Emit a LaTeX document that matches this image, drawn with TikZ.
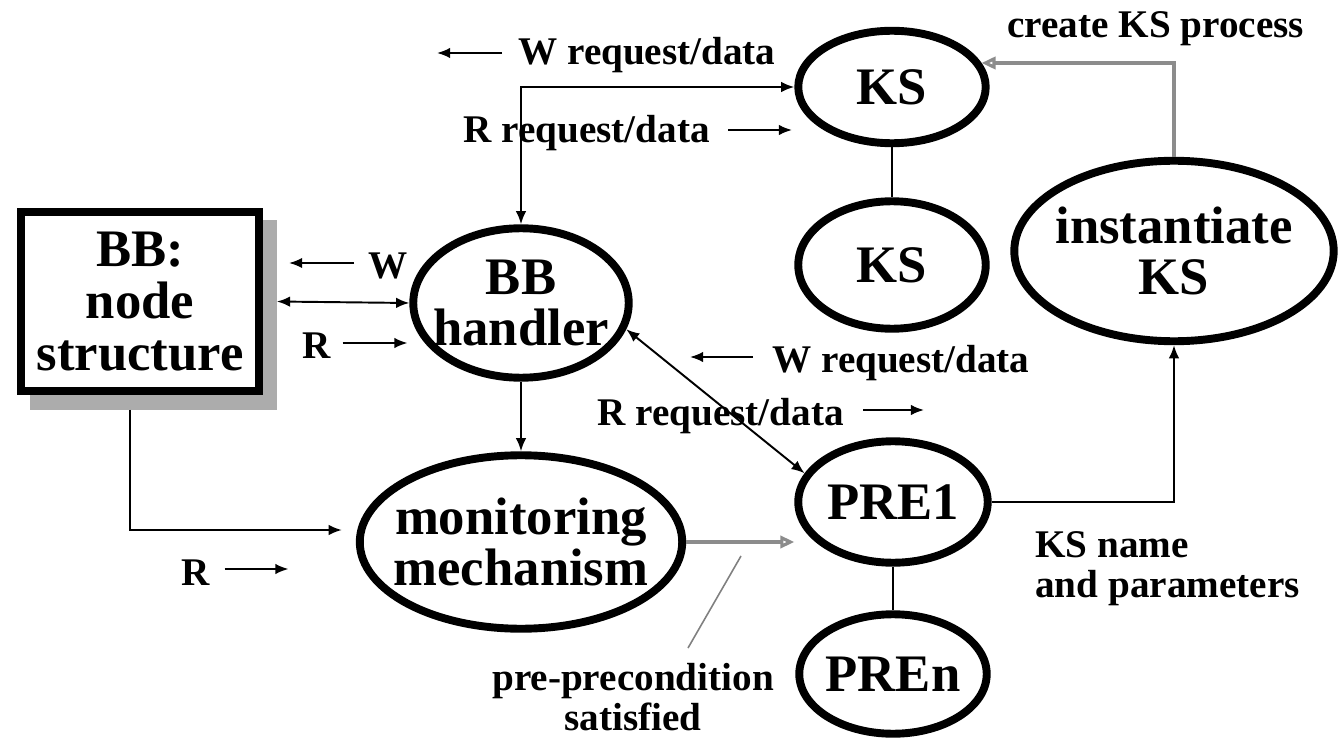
\documentclass[tikz,border=0pt]{standalone}
\usepackage{fontspec}
\setmainfont{Liberation Serif}
\usetikzlibrary{shapes.geometric,arrows.meta,calc}
\begin{document}
\begin{tikzpicture}[x=0.02cm,y=-0.02cm,
  big/.style={font=\fontsize{30}{29.5}\selectfont\bfseries},
  lbl/.style={font=\fontsize{22.3}{23}\selectfont\bfseries, inner sep=0pt},
  oval/.style={ellipse, draw, line width=4.5pt, big, align=center, inner xsep=-10pt, inner ysep=0pt},
  plainln/.style={line width=1.1pt},
  conn/.style={line width=1.1pt, -{Latex[length=7.5pt,width=6pt]}},
  biconn/.style={line width=1.1pt, {Latex[length=7.5pt,width=6pt]}-{Latex[length=7.5pt,width=6pt]}},
  grayconn/.style={line width=1.8pt, draw=gray!90, -{Triangle[open,length=8pt,width=7pt]}},
]
\useasboundingbox (0,0) rectangle (1340,740);

% BB box with shadow
\fill[gray!65] (30,220) rectangle (277,410);
\node[draw, line width=4.5pt, fill=white, minimum width=4.76cm, minimum height=3.58cm,
      big, align=center, inner sep=0pt] (bb) at (140,301.5) {BB:\\node\\structure};

% ellipses
\node[oval, minimum width=3.75cm, minimum height=2.25cm] (ks1) at (892,87) {KS};
\node[oval, minimum width=3.75cm, minimum height=2.55cm] (ks2) at (892,265) {KS};
\node[oval, minimum width=6.39cm, minimum height=3.61cm] (inst) at (1174,251) {instantiate\\KS};
\node[oval, minimum width=4.31cm, minimum height=2.99cm] (hand) at (521,303) {BB\\handler};
\node[oval, minimum width=6.45cm, minimum height=3.47cm] (mon) at (521,542) {monitoring\\mechanism};
\node[oval, minimum width=3.79cm, minimum height=2.43cm] (pre1) at (893,502) {PRE1};
\node[oval, minimum width=3.75cm, minimum height=2.39cm] (pren) at (893,674) {PREn};

% connectors
\draw[biconn] (hand.north) |- (ks1.west);
\draw[plainln] (ks1.south) -- (ks2.north);
\draw[conn] (hand.south) -- (mon.north);
\draw[biconn] ($(bb.east)+(14,0)$) -- (hand.west);
\draw[conn] ($(bb.south)+(-10,15)$) |- ($(mon.west)+(-14,-12)$);
\draw[biconn] (hand.-14) -- (pre1.162);
\draw[grayconn] (mon.east) -- (mon.east -| pre1.west);
\draw[grayconn] (inst.north) |- (ks1.15);
\draw[conn] (pre1.east) -| (inst.south);
\draw[plainln] (pre1.south) -- (pren.north);

% pointer line to "pre-precondition satisfied"
\coordinate (s1) at (741,556);
\coordinate (s2) at (688,648);
\draw[gray, line width=0.9pt] (s1) -- (s2);

% labels with direction arrows
\node[lbl, anchor=base west] (wtop) at (518,65) {W request/data};
\draw[conn] ($(wtop.base west)+(-16,-12)$) -- ++(-65,0);

\node[lbl, anchor=base west] (rtop) at (463,143) {R request/data};
\draw[conn] ($(rtop.base east)+(18,-13)$) -- ++(64,0);

\node[lbl, anchor=base] (wbb) at (388,278) {W};
\draw[conn] ($(wbb.base west)+(-14,-15)$) -- ++(-65,0);

\node[lbl, anchor=base] (rbb) at (317,358) {R};
\draw[conn] ($(rbb.base east)+(11,-15)$) -- ++(65,0);

\node[lbl, anchor=base west] (wmid) at (772,372) {W request/data};
\draw[conn] ($(wmid.base west)+(-19,-15)$) -- ++(-63,0);

\node[lbl, anchor=base west] (rmid) at (597,425) {R request/data};
\draw[conn] ($(rmid.base east)+(19,-15)$) -- ++(61,0);

\node[lbl, anchor=base] (rmon) at (196,585) {R};
\draw[conn] ($(rmon.base east)+(14,-16)$) -- ++(64,0);

\node[lbl, anchor=base west] (create) at (1007,38) {create KS process};
\node[lbl, anchor=west, align=left] (ksname) at (1035,568.5) {KS name\\and parameters};
\node[lbl, align=center] (prepre) at (633,697) {pre-precondition\\satisfied};
\end{tikzpicture}
\end{document}
